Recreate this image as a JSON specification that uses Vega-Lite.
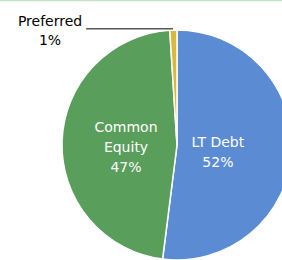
{
  "$schema": "https://vega.github.io/schema/vega-lite/v6.json",
  "width": 230,
  "height": 230,
  "autosize": {"type": "none"},
  "padding": {"left": 62, "top": 30, "right": 0, "bottom": 0},
  "background": "white",
  "config": {"view": {"stroke": null}, "font": "DejaVu Sans"},
  "layer": [
    {
      "data": {
        "values": [
          {"category": "LT Debt", "value": 52, "order": 1, "label": "LT Debt\n52%"},
          {"category": "Common Equity", "value": 47, "order": 2, "label": "Common\nEquity\n47%"},
          {"category": "Preferred", "value": 1, "order": 3, "label": "Preferred\n1%"}
        ]
      },
      "encoding": {
        "theta": {"field": "value", "type": "quantitative", "stack": true},
        "order": {"field": "order", "type": "quantitative"}
      },
      "layer": [
        {
          "mark": {"type": "arc", "stroke": "white", "strokeWidth": 1.5},
          "encoding": {
            "color": {
              "field": "category",
              "type": "nominal",
              "scale": {"domain": ["LT Debt", "Common Equity", "Preferred"], "range": ["#5B8BD2", "#5A9E5B", "#D8B93C"]},
              "legend": null
            }
          }
        },
        {
          "mark": {"type": "text", "radius": 51, "dy": -15.5, "color": "white", "fontSize": 14, "lineBreak": "\n", "lineHeight": 20, "align": "center", "baseline": "middle"},
          "encoding": {
            "text": {"condition": {"test": "datum.category === 'Common Equity'", "field": "label"}, "value": ""}
          }
        },
        {
          "mark": {"type": "text", "radius": 41, "dy": -4.5, "color": "white", "fontSize": 14, "lineBreak": "\n", "lineHeight": 20, "align": "center", "baseline": "middle"},
          "encoding": {
            "text": {"condition": {"test": "datum.category === 'LT Debt'", "field": "label"}, "value": ""}
          }
        }
      ]
    },
    {
      "data": {"values": [{"label": "Preferred\n1%"}]},
      "layer": [
        {
          "mark": {"type": "rule", "color": "#C3E2C3", "strokeWidth": 2},
          "encoding": {
            "x": {"datum": -1.54, "type": "quantitative", "scale": {"domain": [-1, 1]}, "axis": null},
            "x2": {"datum": 0.92},
            "y": {"datum": 1.258, "type": "quantitative", "scale": {"domain": [-1, 1]}, "axis": null}
          }
        },
        {
          "mark": {"type": "rule", "color": "black", "strokeWidth": 1},
          "encoding": {
            "x": {"datum": -0.79, "type": "quantitative"},
            "x2": {"datum": -0.035},
            "y": {"datum": 1.01, "type": "quantitative"}
          }
        },
        {
          "mark": {"type": "text", "dy": -7, "color": "black", "fontSize": 14, "lineBreak": "\n", "lineHeight": 19.5, "align": "center", "baseline": "middle"},
          "encoding": {
            "x": {"datum": -1.104, "type": "quantitative"},
            "y": {"datum": 1.01, "type": "quantitative"},
            "text": {"field": "label"}
          }
        }
      ]
    }
  ]
}
